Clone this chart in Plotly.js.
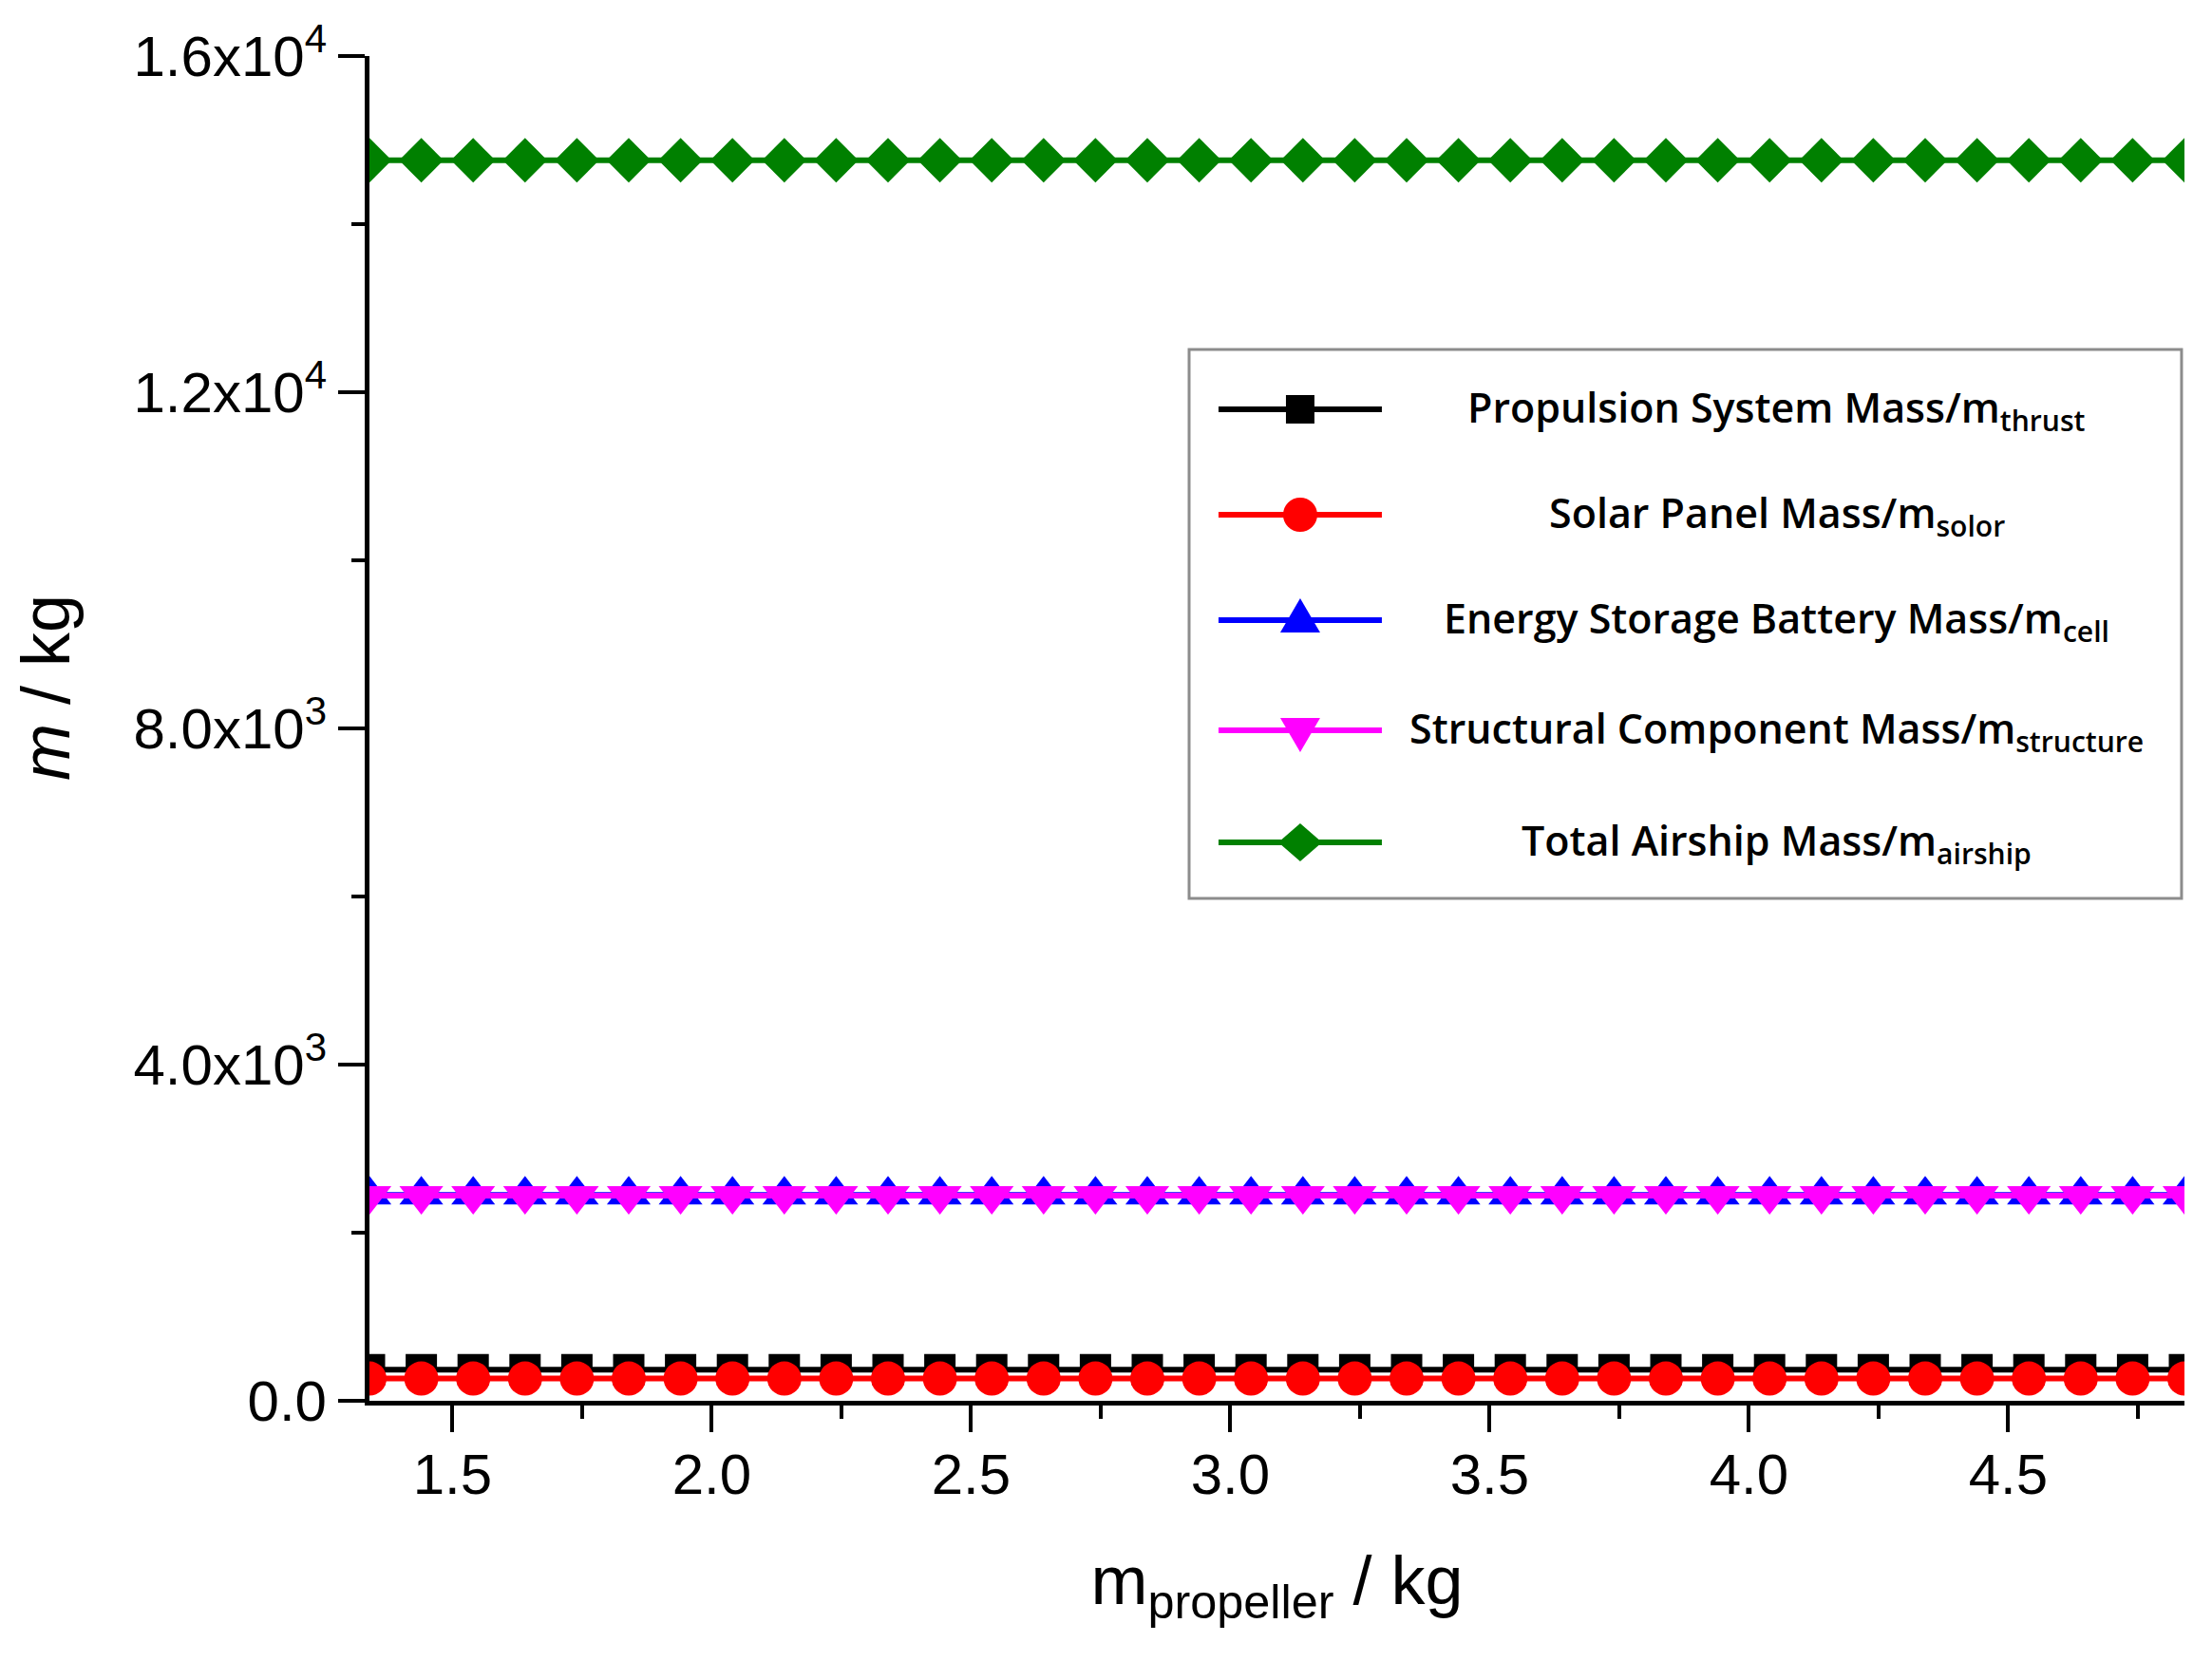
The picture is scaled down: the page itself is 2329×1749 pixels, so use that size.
<!DOCTYPE html>
<html>
<head>
<meta charset="utf-8">
<script src="https://cdn.plot.ly/plotly-3.0.1.min.js"></script>
<style>
  html, body { margin: 0; padding: 0; background: #fff; }
  #chart { width: 2329px; height: 1749px; }
</style>
</head>
<body>
<div id="chart"></div>
<script>
// propeller mass on the x axis (kg)
const propellerMass = [1.34, 1.44, 1.54, 1.64, 1.74, 1.84, 1.94, 2.04, 2.14, 2.24, 2.34, 2.44,
                       2.54, 2.64, 2.74, 2.84, 2.94, 3.04, 3.14, 3.24, 3.34, 3.44, 3.54, 3.64,
                       3.74, 3.84, 3.94, 4.04, 4.14, 4.24, 4.34, 4.44, 4.54, 4.64, 4.74, 4.84];

// component masses (kg) - all flat
const thrustMass = [370, 370, 370, 370, 370, 370, 370, 370, 370, 370, 370, 370,
                    370, 370, 370, 370, 370, 370, 370, 370, 370, 370, 370, 370,
                    370, 370, 370, 370, 370, 370, 370, 370, 370, 370, 370, 370];
const solorMass = [265, 265, 265, 265, 265, 265, 265, 265, 265, 265, 265, 265,
                   265, 265, 265, 265, 265, 265, 265, 265, 265, 265, 265, 265,
                   265, 265, 265, 265, 265, 265, 265, 265, 265, 265, 265, 265];
const cellMass = [2450, 2450, 2450, 2450, 2450, 2450, 2450, 2450, 2450, 2450, 2450, 2450,
                  2450, 2450, 2450, 2450, 2450, 2450, 2450, 2450, 2450, 2450, 2450, 2450,
                  2450, 2450, 2450, 2450, 2450, 2450, 2450, 2450, 2450, 2450, 2450, 2450];
const structureMass = [2440, 2440, 2440, 2440, 2440, 2440, 2440, 2440, 2440, 2440, 2440, 2440,
                       2440, 2440, 2440, 2440, 2440, 2440, 2440, 2440, 2440, 2440, 2440, 2440,
                       2440, 2440, 2440, 2440, 2440, 2440, 2440, 2440, 2440, 2440, 2440, 2440];
const airshipMass = [14760, 14760, 14760, 14760, 14760, 14760, 14760, 14760, 14760, 14760, 14760, 14760,
                     14760, 14760, 14760, 14760, 14760, 14760, 14760, 14760, 14760, 14760, 14760, 14760,
                     14760, 14760, 14760, 14760, 14760, 14760, 14760, 14760, 14760, 14760, 14760, 14760];

const seriesValues = [thrustMass, solorMass, cellMass, structureMass, airshipMass];
const seriesNames = ['Propulsion System Mass/m<sub>thrust</sub>',
                     'Solar Panel Mass/m<sub>solor</sub>',
                     'Energy Storage Battery Mass/m<sub>cell</sub>',
                     'Structural Component Mass/m<sub>structure</sub>',
                     'Total Airship Mass/m<sub>airship</sub>'];
const seriesColors = ['#000000', '#ff0000', '#0000ff', '#ff00ff', '#008000'];
const seriesSymbols = ['square', 'circle', 'triangle-up', 'triangle-down', 'diamond'];
const markerSizes = [33, 36, 40, 40, 36];

const yTickVals = [0, 4000, 8000, 12000, 16000];
const yTickText = ['0.0', '4.0x10<sup>3</sup>', '8.0x10<sup>3</sup>',
                   '1.2x10<sup>4</sup>', '1.6x10<sup>4</sup>'];
const yMinorVals = [2000, 6000, 10000, 14000];

const axisFont = 'Liberation Sans, Arial, sans-serif';
const legendFont = 'Open Sans, Noto Sans, sans-serif';

const traces = seriesValues.map((vals, i) => ({
    type: 'scatter',
    mode: 'lines+markers',
    x: propellerMass,
    y: vals,
    name: seriesNames[i].replace(/<\/?sub>/g, ''),
    showlegend: false,
    line: { color: seriesColors[i], width: 6 },
    marker: { symbol: seriesSymbols[i], size: markerSizes[i], color: seriesColors[i], line: { width: 0 } },
    hoverinfo: 'x+y+name'
}));

// hand-made legend box (Origin style: long line sample, centred text)
const legendRows = [0.7373, 0.6589, 0.5805, 0.4986, 0.4153];
const glyphPaths = {
    'square': 'M-15,-15 L15,-15 L15,15 L-15,15 Z',
    'triangle-up': 'M-21,-13 L21,-13 L0,23 Z',
    'triangle-down': 'M-21,13 L21,13 L0,-23 Z',
    'diamond': 'M-23,0 L0,20 L23,0 L0,-20 Z'
};

const shapes = [{
    type: 'rect', xref: 'paper', yref: 'paper',
    x0: 0.4516, x1: 0.9984, y0: 0.3736, y1: 0.7818,
    fillcolor: '#ffffff', line: { color: '#8c8c8c', width: 3 }, layer: 'above'
}];
const annotations = [];

legendRows.forEach((ry, i) => {
    shapes.push({
        type: 'line', xref: 'paper', yref: 'paper',
        x0: 0.4678, x1: 0.5578, y0: ry, y1: ry,
        line: { color: seriesColors[i], width: 6 }, layer: 'above'
    });
    const sym = seriesSymbols[i];
    const glyph = {
        xref: 'paper', yref: 'paper', xsizemode: 'pixel', ysizemode: 'pixel',
        xanchor: 0.5128, yanchor: ry,
        fillcolor: seriesColors[i], line: { width: 0 }, layer: 'above'
    };
    if (sym === 'circle') {
        Object.assign(glyph, { type: 'circle', x0: -18, x1: 18, y0: -18, y1: 18 });
    } else {
        Object.assign(glyph, { type: 'path', path: glyphPaths[sym] });
    }
    shapes.push(glyph);
    annotations.push({
        xref: 'paper', yref: 'paper', x: 0.7755, y: ry,
        xanchor: 'center', yanchor: 'middle', showarrow: false,
        text: seriesNames[i],
        font: { family: legendFont, size: 43, weight: 600, color: '#000' }
    });
});

// y axis title, placed a little above centre as in the original figure
annotations.push({
    xref: 'paper', yref: 'paper', x: -0.1784, y: 0.5304,
    xanchor: 'center', yanchor: 'middle', textangle: -90, showarrow: false,
    text: '<i>m</i> / kg',
    font: { family: axisFont, size: 72, color: '#000' }
});

const layout = {
    width: 2329,
    height: 1749,
    paper_bgcolor: '#ffffff',
    plot_bgcolor: '#ffffff',
    margin: { l: 389, r: 29, t: 59, b: 274, pad: 0 },
    showlegend: false,
    font: { family: axisFont, color: '#000' },
    xaxis: {
        range: [1.34, 4.84],
        showline: true, linecolor: '#000', linewidth: 5,
        showgrid: false, zeroline: false,
        ticks: 'outside', ticklen: 28, tickwidth: 4, tickcolor: '#000',
        tick0: 1.5, dtick: 0.5, tickformat: '.1f', ticklabelstandoff: -7,
        minor: { tick0: 1.5, dtick: 0.25, ticks: 'outside', ticklen: 14, tickwidth: 4, tickcolor: '#000' },
        tickfont: { family: axisFont, size: 60, color: '#000' },
        title: { text: 'm<sub>propeller</sub> / kg', font: { family: axisFont, size: 72, color: '#000' }, standoff: 55 }
    },
    yaxis: {
        range: [0, 16000],
        showline: true, linecolor: '#000', linewidth: 5,
        showgrid: false, zeroline: false,
        tickmode: 'array', tickvals: yTickVals, ticktext: yTickText,
        ticks: 'outside', ticklen: 28, tickwidth: 4, tickcolor: '#000',
        minor: { tickmode: 'array', tickvals: yMinorVals, ticks: 'outside', ticklen: 14, tickwidth: 4, tickcolor: '#000' },
        tickfont: { family: axisFont, size: 60, color: '#000' }
    },
    yaxis2: {
        overlaying: 'y', side: 'right', anchor: 'x',
        range: [0, 16000],
        showline: true, linecolor: '#000', linewidth: 5,
        showgrid: false, zeroline: false, showticklabels: false,
        tickmode: 'array', tickvals: yTickVals,
        ticks: 'inside', ticklen: 28, tickwidth: 4, tickcolor: '#000',
        minor: { tickmode: 'array', tickvals: yMinorVals, ticks: 'inside', ticklen: 14, tickwidth: 4, tickcolor: '#000' }
    },
    shapes: shapes,
    annotations: annotations
};

Plotly.newPlot('chart', traces, layout, { displayModeBar: false, responsive: false });
</script>
</body>
</html>
